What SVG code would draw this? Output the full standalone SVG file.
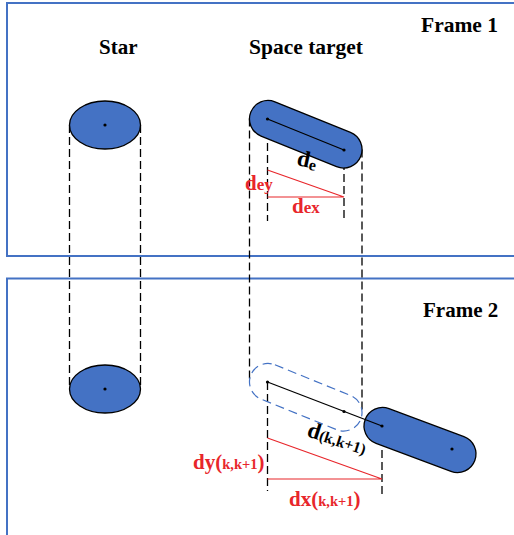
<svg xmlns="http://www.w3.org/2000/svg" width="514" height="535" viewBox="0 0 514 535">
<style>
.frame{fill:none;stroke:#4472C4;stroke-width:2}
.body{fill:#4472C4;stroke:#000;stroke-width:1.3}
.ghost{fill:none;stroke:#4472C4;stroke-width:1.2;stroke-dasharray:9 5}
.dash{stroke:#000;stroke-width:1.3;stroke-dasharray:8 4;fill:none}
.axis{stroke:#000;stroke-width:1.3;fill:none}
.tri{fill:none;stroke:#E8262B;stroke-width:1.2}
.t{font-family:"Liberation Serif","Times New Roman",serif;font-weight:bold}
.blk{fill:#000}
.red{fill:#E8262B}
</style>
<rect width="514" height="535" fill="#fff"/>
<g id="frame1"><rect class="frame" x="7" y="3" width="520" height="253"/><text class="t blk" x="421" y="32" font-size="21.5">Frame 1</text></g>
<g id="frame2"><rect class="frame" x="7" y="278.5" width="520" height="300"/><text class="t blk" x="423" y="317" font-size="21">Frame 2</text></g>
<g id="titles">
<text class="t blk" x="99" y="54" font-size="21">Star</text>
<text class="t blk" x="249" y="54" font-size="21.5">Space target</text>
</g>
<g id="connectors">
<line class="dash" x1="69.5" y1="125" x2="69.5" y2="389"/>
<line class="dash" x1="140.5" y1="125" x2="140.5" y2="389"/>
<line class="dash" x1="249.5" y1="118.5" x2="249.5" y2="382"/>
<line class="dash" x1="362" y1="149.5" x2="362" y2="412"/>
<line class="dash" x1="267.5" y1="119" x2="267.5" y2="221"/>
<line class="dash" x1="344" y1="150" x2="344" y2="221"/>
<line class="dash" x1="267.5" y1="382" x2="267.5" y2="491"/>
<line class="dash" x1="382" y1="426" x2="382" y2="495"/>
</g>
<g id="star1"><ellipse class="body" cx="105" cy="125" rx="35.5" ry="24"/><circle cx="105" cy="125" r="1.6"/></g>
<g id="star2"><ellipse class="body" cx="105" cy="389" rx="35.5" ry="24"/><circle cx="105" cy="389" r="1.6"/></g>
<g id="target1">
<rect class="body" x="-59.25" y="-18.5" width="118.5" height="37" rx="18.5" transform="translate(305.75 134.25) rotate(22.06)"/>
<line class="axis" x1="267.5" y1="119" x2="344" y2="150"/>
<circle cx="267.5" cy="119" r="1.6"/><circle cx="344" cy="150" r="1.6"/>
</g>
<g id="ghost">
<rect class="ghost" x="-59.25" y="-18.5" width="118.5" height="37" rx="18.5" transform="translate(305.75 397.25) rotate(22.06)"/>
</g>
<g id="target2">
<rect class="body" x="-58.5" y="-18.5" width="117" height="37" rx="18.5" transform="translate(420 440) rotate(20.5)"/>
<circle cx="452" cy="449" r="1.6"/>
</g>
<g id="axis2">
<line class="axis" x1="267.5" y1="382" x2="382" y2="426"/>
<circle cx="267.5" cy="382" r="1.6"/><circle cx="344" cy="411.5" r="1.6"/><circle cx="382" cy="426" r="1.6"/>
</g>
<g id="triangle1">
<polyline class="tri" points="267.5,170 344,197 267.5,197"/>
<text class="t red" x="245" y="190"><tspan font-size="21">d</tspan><tspan font-size="17">ey</tspan></text>
<text class="t red" x="292" y="213"><tspan font-size="21">d</tspan><tspan font-size="17">ex</tspan></text>
<text class="t blk" transform="translate(296 165) rotate(12)"><tspan font-size="23">d</tspan><tspan font-size="16" dy="2">e</tspan></text>
</g>
<g id="triangle2">
<polyline class="tri" points="267.5,438 382,479 267.5,479"/>
<text class="t red" x="193" y="469"><tspan font-size="21">dy(</tspan><tspan font-size="14.5">k,k+1</tspan><tspan font-size="21">)</tspan></text>
<text class="t red" x="289" y="506"><tspan font-size="21">dx(</tspan><tspan font-size="14.5">k,k+1</tspan><tspan font-size="21">)</tspan></text>
<text class="t blk" transform="translate(306 436) rotate(18)"><tspan font-size="23">d</tspan><tspan font-size="15.5">(k,k+1)</tspan></text>
</g>
</svg>
